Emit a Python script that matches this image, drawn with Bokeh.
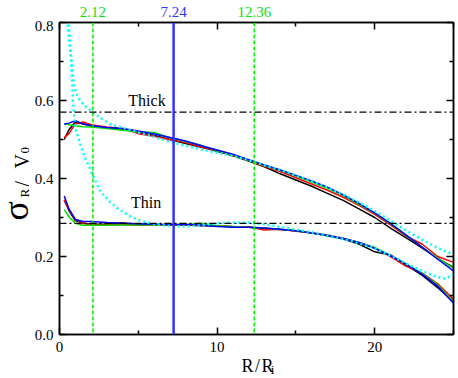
from bokeh.plotting import figure
from bokeh.layouts import column, row
from bokeh.models import Range1d, LinearAxis, FixedTicker, Span, Label, NumeralTickFormatter
from bokeh.core.properties import value
from bokeh.embed import file_html
from bokeh.resources import INLINE

FONT = "Liberation Serif, Times New Roman, DejaVu Serif, serif"

# ---------------- data ----------------
R = [0.3, 0.6, 1.0, 1.5, 2, 3, 4, 5, 6, 7, 8, 9, 10, 11, 12, 13, 14, 15, 16, 17, 18, 19, 20, 21, 22, 23, 24, 25]

thick_black = [0.500, 0.525, 0.545, 0.540, 0.535, 0.530, 0.527, 0.518, 0.510, 0.500, 0.490, 0.480, 0.470, 0.458, 0.445, 0.430, 0.412, 0.396, 0.380, 0.362, 0.344, 0.322, 0.300, 0.273, 0.248, 0.222, 0.195, 0.172]
thick_red = [0.505, 0.515, 0.540, 0.545, 0.538, 0.532, 0.528, 0.515, 0.508, 0.500, 0.492, 0.481, 0.471, 0.459, 0.446, 0.431, 0.418, 0.402, 0.386, 0.370, 0.352, 0.331, 0.308, 0.281, 0.252, 0.232, 0.200, 0.185]
thick_green = [0.540, 0.538, 0.535, 0.533, 0.532, 0.528, 0.524, 0.520, 0.518, 0.505, 0.495, 0.485, 0.472, 0.460, 0.447, 0.434, 0.421, 0.406, 0.391, 0.375, 0.356, 0.334, 0.311, 0.284, 0.254, 0.225, 0.195, 0.170]
thick_blue = [0.540, 0.542, 0.548, 0.540, 0.536, 0.531, 0.528, 0.522, 0.514, 0.505, 0.496, 0.484, 0.473, 0.462, 0.448, 0.435, 0.422, 0.408, 0.394, 0.378, 0.358, 0.336, 0.312, 0.285, 0.255, 0.224, 0.193, 0.163]

thin_black = [0.345, 0.318, 0.292, 0.285, 0.283, 0.283, 0.286, 0.283, 0.282, 0.281, 0.281, 0.279, 0.278, 0.276, 0.275, 0.272, 0.269, 0.266, 0.260, 0.253, 0.245, 0.232, 0.212, 0.204, 0.178, 0.152, 0.120, 0.085]
thin_red = [0.345, 0.320, 0.295, 0.286, 0.281, 0.281, 0.282, 0.280, 0.281, 0.281, 0.281, 0.280, 0.279, 0.277, 0.276, 0.268, 0.270, 0.265, 0.261, 0.255, 0.247, 0.236, 0.222, 0.200, 0.175, 0.158, 0.130, 0.090]
thin_green = [0.320, 0.302, 0.285, 0.280, 0.280, 0.280, 0.281, 0.281, 0.281, 0.282, 0.282, 0.285, 0.279, 0.277, 0.275, 0.273, 0.270, 0.266, 0.260, 0.253, 0.246, 0.236, 0.223, 0.203, 0.181, 0.157, 0.127, 0.083]
thin_blue = [0.355, 0.322, 0.295, 0.290, 0.290, 0.287, 0.285, 0.284, 0.283, 0.282, 0.282, 0.281, 0.277, 0.275, 0.275, 0.273, 0.270, 0.266, 0.260, 0.254, 0.246, 0.236, 0.221, 0.202, 0.180, 0.155, 0.124, 0.080]

R_cyan_thick = [0.45, 0.6, 0.75, 0.9, 1.1, 1.3, 1.7, 2.1, 2.6, 3.2, 4, 5, 6, 7, 8, 9, 10, 11, 12, 13, 14, 15, 16, 17, 18, 19, 20, 21, 22, 23, 24, 25]
cyan_thick = [0.820, 0.760, 0.700, 0.643, 0.615, 0.600, 0.583, 0.570, 0.555, 0.540, 0.530, 0.518, 0.507, 0.494, 0.484, 0.474, 0.466, 0.458, 0.447, 0.434, 0.422, 0.408, 0.393, 0.377, 0.359, 0.339, 0.317, 0.292, 0.267, 0.243, 0.222, 0.205]

R_cyan_thin = [0.55, 0.65, 0.75, 0.85, 1.0, 1.3, 1.6, 2.1, 2.6, 3.2, 3.7, 4.4, 5.1, 6, 7, 8, 9, 10, 11, 12, 13, 14, 15, 16, 17, 18, 19, 20, 21, 22, 23, 24, 24.5, 25]
cyan_thin = [0.820, 0.760, 0.700, 0.600, 0.530, 0.490, 0.455, 0.410, 0.366, 0.340, 0.323, 0.305, 0.292, 0.283, 0.278, 0.277, 0.280, 0.285, 0.287, 0.287, 0.283, 0.276, 0.269, 0.262, 0.254, 0.245, 0.234, 0.220, 0.202, 0.182, 0.163, 0.147, 0.143, 0.155]

vlines = [2.12, 7.24, 12.36]
vline_colors = ["#11dd11", "#3333ff", "#11dd11"]
hlines = [0.57, 0.285]
group_labels = ["Thick", "Thin"]
group_label_x = [5.55, 5.5]
group_label_y = [0.601, 0.3395]

x_ticks = [0, 10, 20]
x_minor = [5, 15, 25]
y_ticks = [0.0, 0.2, 0.4, 0.6, 0.8]
y_minor = [0.1, 0.3, 0.5, 0.7]

# ---------------- geometry ----------------
LEFT_W = 30
FRAME_W, FRAME_H = 394, 312
MB_LEFT, MB_RIGHT, MB_TOP, MB_BOTTOM = 29, 5, 2, 22
TOP_H, BOT_H = 20, 22

xr = Range1d(0, 25)
yr = Range1d(0, 0.8)

# ---------------- main figure ----------------
p = figure(frame_width=FRAME_W, frame_height=FRAME_H, x_range=xr, y_range=yr,
           output_backend="svg", toolbar_location=None,
           min_border_left=MB_LEFT, min_border_right=MB_RIGHT,
           min_border_top=MB_TOP, min_border_bottom=MB_BOTTOM)
p.grid.visible = False
p.outline_line_color = "black"
p.outline_line_width = 1.5


def style_axis(ax, show_labels=True):
    ax.axis_line_color = "black"
    ax.axis_line_width = 1.5
    ax.major_tick_in = 7
    ax.major_tick_out = 0
    ax.minor_tick_in = 4
    ax.minor_tick_out = 0
    ax.major_tick_line_width = 1.5
    ax.minor_tick_line_width = 1.5
    ax.major_tick_line_color = "black"
    ax.minor_tick_line_color = "black"
    ax.major_label_text_font = FONT
    ax.major_label_text_color = "black"
    if show_labels:
        ax.major_label_text_font_size = "15px"
        ax.major_label_standoff = 6
    else:
        ax.major_label_text_font_size = "0px"
        ax.major_label_standoff = 0


p.xaxis.ticker = FixedTicker(ticks=x_ticks, minor_ticks=x_minor)
p.yaxis.ticker = FixedTicker(ticks=y_ticks, minor_ticks=y_minor)
p.yaxis.formatter = NumeralTickFormatter(format="0.0")
style_axis(p.xaxis[0])
style_axis(p.yaxis[0])
p.xaxis[0].major_label_standoff = 7

top = LinearAxis(ticker=FixedTicker(ticks=x_ticks, minor_ticks=x_minor))
style_axis(top, False)
p.add_layout(top, "above")
right = LinearAxis(ticker=FixedTicker(ticks=y_ticks, minor_ticks=y_minor))
style_axis(right, False)
p.add_layout(right, "right")

for v, c in zip(vlines, vline_colors):
    if c == "#3333ff":
        p.add_layout(Span(location=v, dimension="height", line_color=c, line_width=2.5))
    else:
        p.add_layout(Span(location=v, dimension="height", line_color="#00ee00", line_width=1.5, line_dash="4 2"))
for h in hlines:
    p.add_layout(Span(location=h, dimension="width", line_color="black", line_width=1.2, line_dash="7 3 2 3"))

colors = ["black", "red", "#00dd00", "blue"]
groups = [(thick_black, thin_black), (thick_red, thin_red), (thick_green, thin_green), (thick_blue, thin_blue)]
for c, (a, b) in zip(colors, groups):
    p.line(R, a, line_color=c, line_width=1.5)
    p.line(R, b, line_color=c, line_width=1.5)
p.line(R_cyan_thick, cyan_thick, line_color="#00ffff", line_width=2.5, line_dash="2 3")
p.line(R_cyan_thin, cyan_thin, line_color="#00ffff", line_width=2.5, line_dash="2 3")

for t, x, y in zip(group_labels, group_label_x, group_label_y):
    p.add_layout(Label(x=x, y=y, text=t, text_align="center", text_baseline="middle",
                       text_font=FONT, text_font_size="16px", text_color="black"))


def strip(**kw):
    f = figure(output_backend="svg", toolbar_location=None,
               x_axis_location=None, y_axis_location=None, **kw)
    f.grid.visible = False
    f.outline_line_color = None
    return f


# ---------------- top strip: labels of the vertical lines ----------------
ts = strip(frame_width=FRAME_W, frame_height=TOP_H, x_range=xr, y_range=Range1d(0, TOP_H),
           min_border_left=LEFT_W + MB_LEFT, min_border_right=MB_RIGHT,
           min_border_top=0, min_border_bottom=0)
ts.text(x=vlines, y=[8.6] * len(vlines), text=[f"{v:.2f}" for v in vlines],
        text_color=vline_colors, text_align="center", text_baseline="middle",
        text_font=value(FONT), text_font_size="15px")

# ---------------- left strip: y-axis title ----------------
ls = strip(frame_width=LEFT_W, frame_height=FRAME_H, x_range=Range1d(0, LEFT_W), y_range=yr,
           min_border_left=0, min_border_right=0,
           min_border_top=MB_TOP, min_border_bottom=MB_BOTTOM)
ylab = [("σ", 15.9, 0.2923, "36px"), ("R", 24.1, 0.3513, "13px"), (" / ", 21.25, 0.3795, "20px"),
        ("V", 21.25, 0.4256, "20px"), ("0", 24.1, 0.464, "13px")]
for t, x, y, fs in ylab:
    ls.text(x=[x], y=[y], text=[t], angle=1.5708, text_align="left", text_baseline="middle",
            text_font=value(FONT), text_font_size=fs, text_color="black")

# ---------------- bottom strip: x-axis title ----------------
bs = strip(frame_width=FRAME_W, frame_height=BOT_H, x_range=xr, y_range=Range1d(0, BOT_H),
           min_border_left=LEFT_W + MB_LEFT, min_border_right=MB_RIGHT,
           min_border_top=0, min_border_bottom=0)
bs.text(x=[11.55], y=[13.0], text=["R\u200a/\u200aR"], text_align="left", text_baseline="middle",
        text_font=value(FONT), text_font_size="18px", text_color="black")
bs.text(x=[13.4], y=[8.9], text=["i"], text_align="left", text_baseline="middle",
        text_font=value(FONT), text_font_size="13px", text_color="black")

layout = column(ts, row(ls, p), bs)
open("out.html", "w").write(file_html(layout, INLINE))
